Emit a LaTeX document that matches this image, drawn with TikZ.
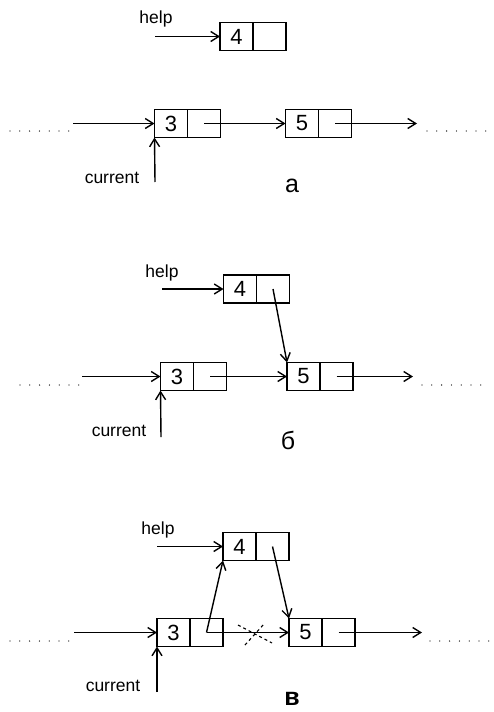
\documentclass[tikz,border=0pt]{standalone}
\usepackage{fontspec}
\setmainfont{Liberation Sans}
\usetikzlibrary{arrows.meta}
\begin{document}
\begin{tikzpicture}[x=1pt,y=-1pt,
  cell/.style={draw,line width=1.4pt,minimum width=33pt,minimum height=28pt,inner sep=0pt,outer sep=0pt,font=\fontsize{22}{22}\selectfont},
  ptr/.style={draw,line width=1.4pt,minimum width=33pt,minimum height=28pt,inner sep=0pt,outer sep=0pt,anchor=west},
  link/.style={line width=1.4pt,-{Straight Barb[length=8pt,width=10pt,line width=1.4pt]}},
  lbl/.style={font=\fontsize{17.5}{17.5}\selectfont,inner sep=0pt},
  captxt/.style={font=\fontsize{25}{25}\selectfont,inner sep=0pt},
  dotline/.style={line width=1.3pt,dash pattern=on 0pt off 9.8pt,line cap=round},
  crossline/.style={line width=1.1pt,dashed}]
\useasboundingbox (0,0) rectangle (493,712);
\fill[white] (0,0) rectangle (493,712);

% ---------- panel a ----------
\node[cell] (ah4) at (236.5,36.5) {4};
\node[ptr] (ah4p) at (ah4.east) {};
\node[cell] (a3) at (171,123.5) {3};
\node[ptr] (a3p) at (a3.east) {};
\node[cell] (a5) at (302,123.5) {5};
\node[ptr] (a5p) at (a5.east) {};
\node[lbl] (ahelp) at (156,19) {help};
\node[lbl] (acur) at (112,178) {current};
\node[captxt] (acap) at (292,186) {а};
\coordinate (ahs) at (155,36.5);
\coordinate (ain) at (73,123.5);
\coordinate (aout) at (417,123.5);
\coordinate (acs) at (155,182);
\draw[link] (ahs) -- (ah4.west);
\draw[link] (ain) -- (a3.west);
\draw[link] (a3p.center) -- (a5.west);
\draw[link] (a5p.center) -- (aout);
\draw[link] (acs) -- (a3.south west);
\draw[dotline] (10,131) -- (72,131);
\draw[dotline] (427,131) -- (489,131);

% ---------- panel b ----------
\node[cell] (bh4) at (240,289) {4};
\node[ptr] (bh4p) at (bh4.east) {};
\node[cell] (b3) at (177,376.5) {3};
\node[ptr] (b3p) at (b3.east) {};
\node[cell] (b5) at (303.5,376.5) {5};
\node[ptr] (b5p) at (b5.east) {};
\node[lbl] (bhelp) at (162,273) {help};
\node[lbl] (bcur) at (119,431) {current};
\node[captxt] (bcap) at (288,440) {б};
\coordinate (bhs) at (162,289);
\coordinate (bin) at (82,376.5);
\coordinate (bout) at (413,376.5);
\coordinate (bcs) at (161,437);
\draw[link] (bhs) -- (bh4.west);
\draw[link] (bin) -- (b3.west);
\draw[link] (b3p.center) -- (b5.west);
\draw[link] (b5p.center) -- (bout);
\draw[link] (bh4p.center) -- (b5.north west);
\draw[link] (bcs) -- (b3.south west);
\draw[dotline] (20,385) -- (82,385);
\draw[dotline] (422,385) -- (484,385);

% ---------- panel c ----------
\node[cell] (ch4) at (239.5,546.5) {4};
\node[ptr] (ch4p) at (ch4.east) {};
\node[cell] (c3) at (173.5,632.5) {3};
\node[ptr] (c3p) at (c3.east) {};
\node[cell] (c5) at (305.5,632.5) {5};
\node[ptr] (c5p) at (c5.east) {};
\node[lbl] (chelp) at (158,530) {help};
\node[lbl] (ccur) at (113,686) {current};
\node[captxt] (ccap) at (292,699) {\bfseries в};
\coordinate (chs) at (157,546.5);
\coordinate (cin) at (74,632.5);
\coordinate (cout) at (422,632.5);
\coordinate (ccs) at (157,692);
\draw[link] (chs) -- (ch4.west);
\draw[link] (cin) -- (c3.west);
\draw[link] (c3p.center) -- (c5.west);
\draw[link] (c5p.center) -- (cout);
\draw[link] (c3p.center) -- (ch4.south west);
\draw[link] (ch4p.center) -- (c5.north west);
\draw[link] (ccs) -- (c3.south west);
\draw[crossline] (238,625) -- (272,643);
\draw[crossline] (245,645) -- (264,624);
\draw[dotline] (10,641) -- (72,641);
\draw[dotline] (430,641) -- (492,641);
\end{tikzpicture}
\end{document}
